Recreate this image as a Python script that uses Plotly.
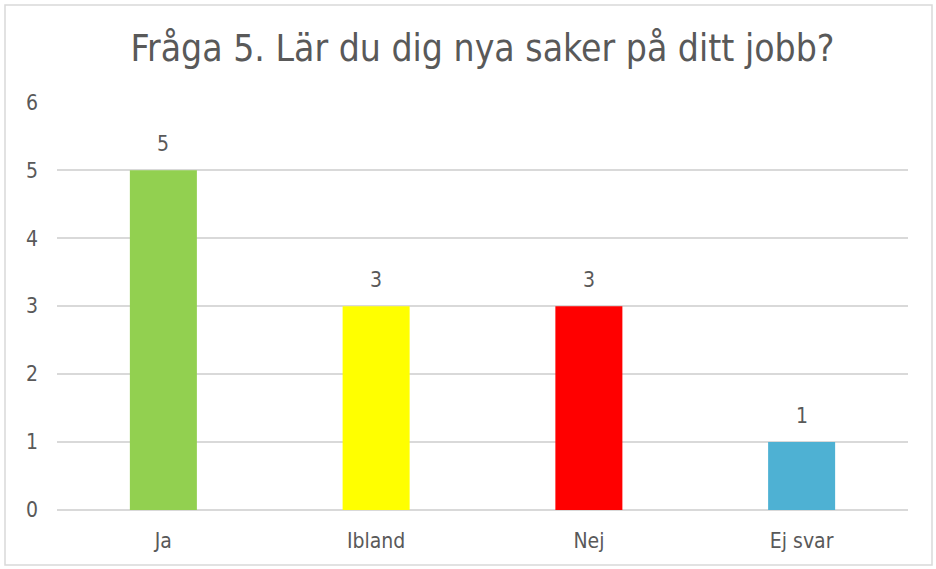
import plotly.graph_objects as go

categories = ['Ja', 'Ibland', 'Nej', 'Ej svar']
answers = [5, 3, 3, 1]
bar_colors = ['#92d050', '#ffff00', '#ff0000', '#4eb1d3']
y_ticks = [0, 1, 2, 3, 4, 5, 6]

font_name = 'DejaVu Sans Condensed, Liberation Sans Narrow, sans-serif'
grey = '#595959'

fig = go.Figure(go.Bar(
    x=categories,
    y=answers,
    marker=dict(color=bar_colors, line=dict(width=0)),
    cliponaxis=False,
))

# value labels above the bars
for cat, val in zip(categories, answers):
    fig.add_annotation(x=cat, y=val, text=str(val), showarrow=False,
                       yanchor='middle', yshift=26,
                       font=dict(size=21, color=grey, family=font_name))

fig.update_layout(
    width=936, height=569,
    margin=dict(l=57, r=28, t=102, b=59),
    paper_bgcolor='white', plot_bgcolor='white',
    font=dict(family=font_name, color=grey, size=21),
    bargap=0.685,
    showlegend=False,
    title=dict(text='Fråga 5. Lär du dig nya saker på ditt jobb?',
               x=0.5, xref='paper', xanchor='center',
               y=1 - 48 / 569, yref='container', yanchor='middle',
               font=dict(size=37, color=grey, family=font_name)),
)

fig.update_yaxes(range=[0, 6.004], tickvals=y_ticks, showgrid=True,
                 gridcolor='#d9d9d9', gridwidth=1.5, zeroline=True,
                 zerolinecolor='#d9d9d9', zerolinewidth=1.5,
                 showline=False, ticks='', ticklabelstandoff=18)
fig.update_xaxes(showline=False, ticks='', ticklabelstandoff=16)

# chart border
fig.add_shape(type='rect', xref='paper', yref='paper',
              x0=(5 - 57) / 851, x1=(932 - 57) / 851,
              y0=(510 - 565) / 408, y1=(510 - 5) / 408,
              line=dict(color='#d9d9d9', width=1.5), layer='below')

fig.write_html('out.html', config={'displayModeBar': False},
               post_script="document.body.style.margin='0';")
